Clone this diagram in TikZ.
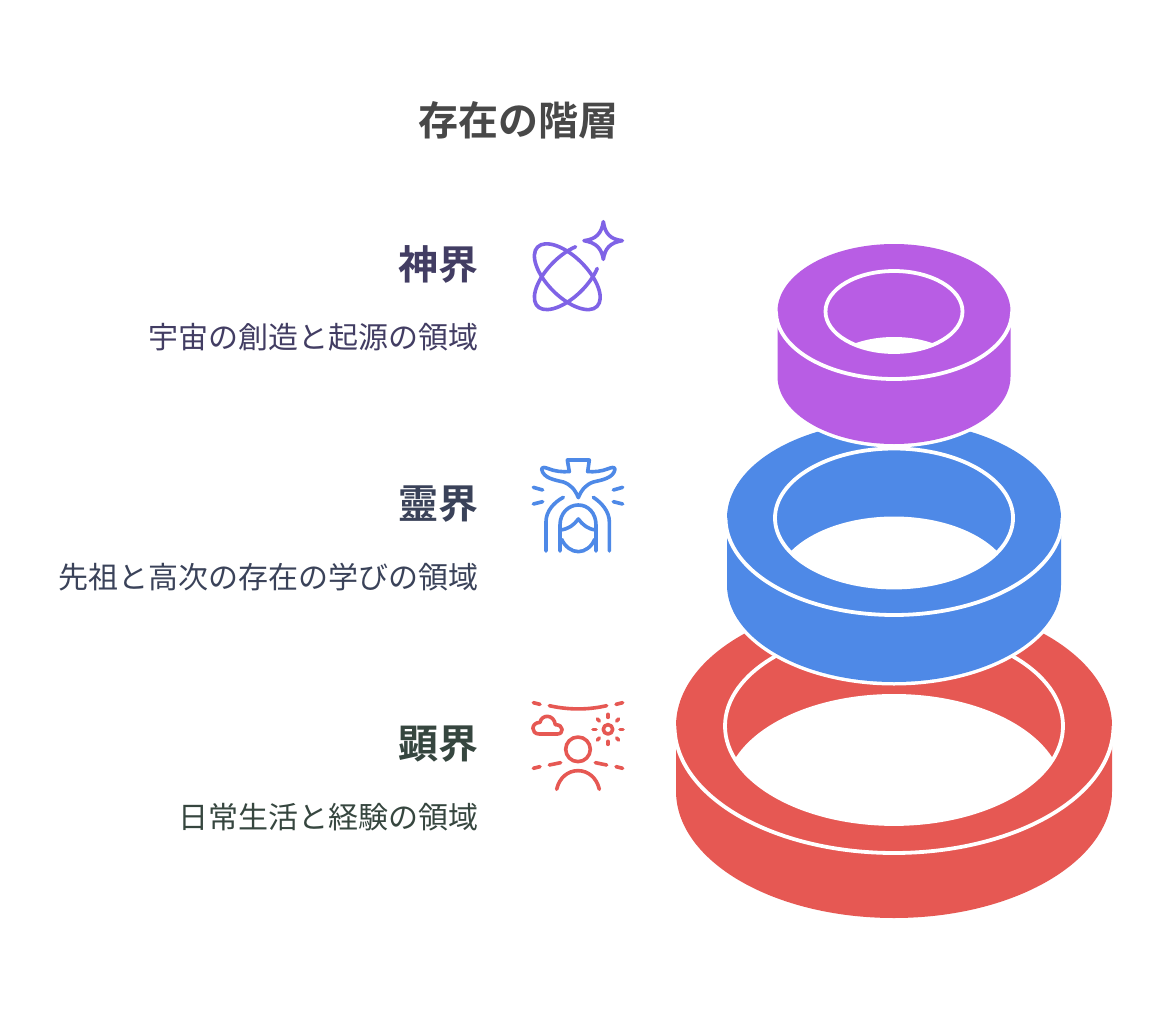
\documentclass[tikz,border=0pt]{standalone}
\usepackage{fontspec}
\setmainfont{Noto Sans CJK JP}[BoldFont={Noto Sans CJK JP Bold}]
\newcommand{\ringpath}[5]{% cx cy rx ry d
  (#1-#3,#2) -- (#1-#3,#2+#5)
  arc[start angle=180,end angle=360,x radius=#3 pt,y radius=#4 pt]
  -- (#1+#3,#2)
  arc[start angle=0,end angle=180,x radius=#3 pt,y radius=#4 pt] -- cycle}
\newcommand{\ringdraw}[9]{% cx cy rx ry irx iry d colour holery
  \path[draw=white,line width=7pt] \ringpath{#1}{#2}{#3}{#4}{#7};
  \fill[#8] \ringpath{#1}{#2}{#3}{#4}{#7};
  \begin{scope}
    \clip (#1,#2+#7-#6+#9+1) ellipse[x radius=#5 pt,y radius=#9 pt];
    \fill[white] (#1,#2) ellipse[x radius=#5 pt,y radius=#6 pt];
  \end{scope}
  \draw[ringline] (#1,#2) ellipse[x radius=#5 pt,y radius=#6 pt];
  \draw[ringline] (#1-#3-1.5,#2) arc[start angle=180,end angle=360,x radius=#3+1.5 pt,y radius=#4 pt];
}
\definecolor{rpurple}{HTML}{B85DE4}
\definecolor{rblue}{HTML}{4E89E7}
\definecolor{rred}{HTML}{E65853}
\definecolor{ipurple}{HTML}{7F63E6}
\definecolor{tpurple}{HTML}{423D63}
\definecolor{tblue}{HTML}{3A4259}
\definecolor{tgreen}{HTML}{36463F}
\definecolor{ttitle}{HTML}{484848}
\tikzset{
  ringline/.style={draw=white,line width=3.8pt},
  ico/.style={line width=3.6pt,line cap=round,line join=round},
  iconframe/.style={x=0.3333pt,y=-0.3333pt},
  headtext/.style={anchor=east,inner sep=0pt,font=\fontsize{40}{46}\selectfont\bfseries},
  subtext/.style={anchor=east,inner sep=0pt,font=\fontsize{30}{36}\selectfont},
}
\begin{document}
\begin{tikzpicture}[x=1pt,y=-1pt]
\useasboundingbox (0,0) rectangle (1164,1019);
\fill[white] (0,0) rectangle (1164,1019);
\node[anchor=center,inner sep=0pt,text=ttitle,font=\fontsize{40}{46}\selectfont\bfseries] (title) at (518,120) {存在の階層};
\node[headtext,text=tpurple] (h1) at (479,264) {神界};
\node[subtext,text=tpurple] (s1) at (479,337) {宇宙の創造と起源の領域};
\node[headtext,text=tblue] (h2) at (479,504) {靈界};
\node[subtext,text=tblue] (s2) at (479,577) {先祖と高次の存在の学びの領域};
\node[headtext,text=tgreen] (h3) at (479,744) {顕界};
\node[subtext,text=tgreen] (s3) at (479,817) {日常生活と経験の領域};

\ringdraw{894}{726}{218}{127}{169}{98}{65}{rred}{98}
\ringdraw{894}{518}{167}{97}{119}{69.5}{67}{rblue}{69.5}
\ringdraw{894}{311.5}{116.5}{67.5}{68.5}{40.5}{65}{rpurple}{36}

% icon 1: orbits and sparkle
\begin{scope}[shift={(510,210)},iconframe,ico,draw=ipurple]
\draw (280,35) .. controls (285,70) and (300,88) .. (337,92)
  .. controls (300,98) and (285,115) .. (280,148)
  .. controls (275,115) and (258,98) .. (222,92)
  .. controls (258,88) and (275,70) .. (280,35) -- cycle;
\end{scope}
\begin{scope}[shift={(567.3,276.7)},rotate=-45,ico,draw=ipurple]
\draw (0pt,0pt) ellipse[x radius=42pt,y radius=20pt];
\end{scope}
\begin{scope}[shift={(567.3,276.7)},rotate=45,ico,draw=ipurple]
\draw (27pt,15.32pt) arc[start angle=50,end angle=310,x radius=42pt,y radius=20pt];
\end{scope}

% icon 2: bird and figure
\begin{scope}[shift={(510,450)},iconframe,ico,draw=rblue]
\draw (205,143) .. controls (195,118) and (182,104) .. (160,96)
  .. controls (135,90) and (100,85) .. (95,58)
  .. controls (96,50) and (105,52) .. (115,56)
  .. controls (135,64) and (155,66) .. (178,65)
  -- (172,30) -- (238,30) -- (233,65)
  .. controls (255,66) and (275,64) .. (295,56)
  .. controls (305,52) and (314,50) .. (315,58)
  .. controls (310,85) and (275,90) .. (250,96)
  .. controls (228,104) and (215,118) .. (205,143) -- cycle;
\draw (70,112) -- (98,120);
\draw (70,162) -- (98,155);
\draw (310,120) -- (338,112);
\draw (310,155) -- (338,162);
\draw (108,303) -- (108,215) .. controls (108,185) and (130,158) .. (160,142);
\draw (298,303) -- (298,215) .. controls (298,185) and (275,158) .. (250,142);
\draw (150,303) -- (150,225) .. controls (150,190) and (175,165) .. (205,165)
  .. controls (235,165) and (258,190) .. (258,225) -- (258,303);
\draw (150,240) .. controls (175,238) and (192,225) .. (205,207)
  .. controls (218,225) and (235,238) .. (258,240);
\draw (155,268) .. controls (165,290) and (185,305) .. (205,305)
  .. controls (225,305) and (245,290) .. (254,268);
\end{scope}

% icon 3: person, cloud, sun
\begin{scope}[shift={(510,690)},iconframe,ico,draw=rred]
\draw (70,38) -- (90,43);
\draw (118,47) .. controls (175,60) and (235,60) .. (290,47);
\draw (318,43) -- (338,38);
\draw (88,132) -- (142,132) .. controls (162,132) and (162,104) .. (136,104)
  .. controls (132,72) and (95,72) .. (90,97)
  .. controls (62,98) and (62,132) .. (88,132) -- cycle;
\draw (294,118) circle[radius=4.7pt];
\draw (294,73) -- (294,82);
\draw (294,154) -- (294,163);
\draw (249,118) -- (258,118);
\draw (330,118) -- (339,118);
\draw (262,87) -- (268,93);
\draw (320,93) -- (326,87);
\draw (262,150) -- (268,144);
\draw (320,144) -- (326,150);
\draw (204,178) circle[radius=12.3pt];
\draw (140,298) .. controls (148,262) and (175,242) .. (204,242)
  .. controls (233,242) and (260,262) .. (268,298);
\draw (70,235) -- (90,230);
\draw (118,225) -- (152,218);
\draw (256,218) -- (290,225);
\draw (318,230) -- (338,235);
\end{scope}
\end{tikzpicture}
\end{document}
